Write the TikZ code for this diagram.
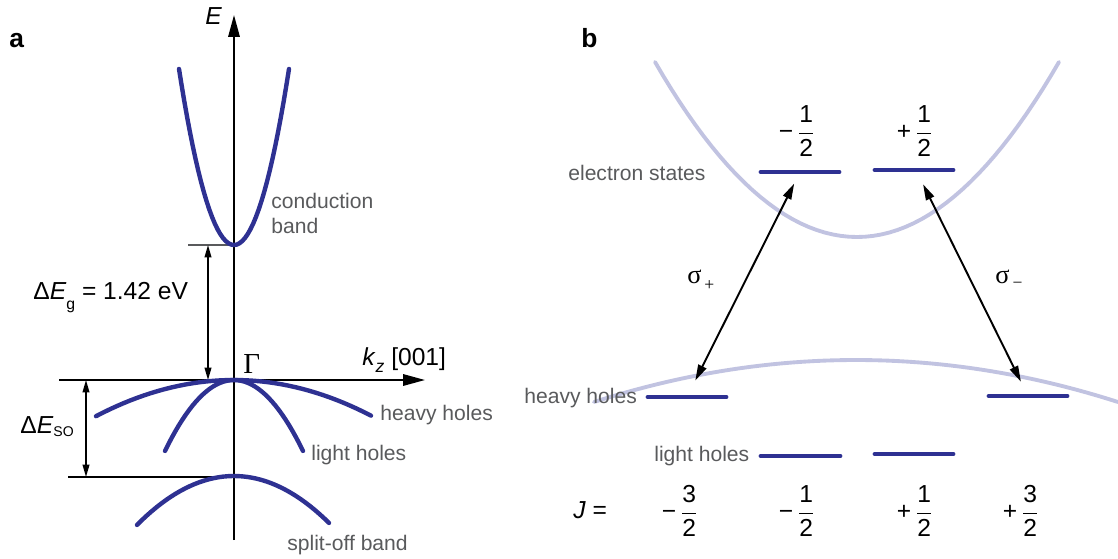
\documentclass[tikz,border=0pt]{standalone}
\usepackage{fontspec}
\setmainfont{Liberation Sans}
\newfontfamily\serifgr{Liberation Serif}
\usetikzlibrary{arrows.meta}
\definecolor{bandblue}{HTML}{2E3192}
\definecolor{bandlav}{HTML}{C1C3E1}
\definecolor{labgray}{HTML}{595A5C}
\newcommand{\spin}[2]{$\mbox{#1}\,{\displaystyle\frac{\mbox{#2}}{\mbox{2}}}$}
\begin{document}
\begin{tikzpicture}[x=0.02cm, y=-0.02cm, every node/.style={inner sep=0pt},
  band/.style={bandblue,line width=2.5pt,line cap=round},
  ghost/.style={bandlav,line width=2.2pt,line cap=round},
  level/.style={bandblue,line width=2.8pt,line cap=round},
  axis/.style={line width=1.1pt,-{Triangle[length=12.5pt,width=6.5pt]}},
  gap/.style={line width=0.9pt,{Triangle[length=7pt,width=3.8pt]}-{Triangle[length=7pt,width=3.8pt]}},
  trans/.style={line width=1.1pt,{Triangle[length=9pt,width=5pt]}-{Triangle[length=9pt,width=5pt]}},
  glabel/.style={text=labgray,font=\fontsize{12}{14}\selectfont},
  big/.style={font=\fontsize{14}{17}\selectfont},
  panel/.style={font=\fontsize{15}{18}\selectfont\bfseries}]
\useasboundingbox (0,0) rectangle (1118,558);
% a
\coordinate (O) at (234,380);
\coordinate (Ebot) at (234,540);
\coordinate (Etop) at (234,15);
\coordinate (kl) at (59,380);
\coordinate (kr) at (425,380);
\coordinate (cbmin) at (234,245);
\coordinate (cbtick) at (188,245);
\coordinate (somax) at (234,477);
\coordinate (sotick) at (68,477);
\coordinate (gapt) at (208,245);
\coordinate (gapb) at (208,380);
\coordinate (sot) at (86,380);
\coordinate (sob) at (86,477);
\draw[axis] (Ebot) -- (Etop);
\draw[axis] (kl) -- (kr);
\draw[labgray,line width=0.6pt] (cbtick) -- (cbmin);
\draw[line width=0.9pt] (sotick) -- (somax);
\draw[gap] (gapt) -- (gapb);
\draw[gap] (sot) -- (sob);
\draw[band] plot[domain=-55:55,samples=41] ({234+\x},{245-582*(\x/100)*(\x/100)});
\draw[band] plot[domain=-138:137,samples=41] ({234+\x},{380+19*(\x/100)*(\x/100)});
\draw[band] plot[domain=-69:69,samples=41] ({234+\x},{380+149*(\x/100)*(\x/100)});
\draw[band] plot[domain=-97:95,samples=41] ({234+\x},{476+52*(\x/100)*(\x/100)});
\node[panel,anchor=base west] (la) at (9,47) {a};
\node[big,anchor=base west] (Elab) at (205,24) {\textit{E}};
\node[glabel,anchor=north west,align=left] (cb) at (271,193) {conduction\\band};
\node[big,anchor=base west] (Eg) at (33,299) {Δ\textit{E}\raisebox{-6pt}{\fontsize{9}{9}\selectfont g} = 1.42 eV};
\node[big,anchor=base west] (Eso) at (20,433) {Δ\textit{E}\raisebox{-2pt}{\fontsize{8}{8}\selectfont SO}};
\node[anchor=base west,font=\serifgr\fontsize{16.5}{18}\selectfont] (G) at (243,373) {Γ};
\node[big,anchor=base west] (kz) at (362,365) {\textit{k}\raisebox{-4pt}{\fontsize{10}{10}\selectfont\textit{z}} [001]};
\node[glabel,anchor=base west] (hha) at (380,420) {heavy holes};
\node[glabel,anchor=base west] (lha) at (311,460) {light holes};
\node[glabel,anchor=base west] (soa) at (287,550) {split-off band};
% b
\coordinate (em) at (800,172);
\coordinate (ep) at (916,170);
\coordinate (hm) at (687,397);
\coordinate (hp) at (1028,396);
\draw[ghost] plot[domain=-202:202,samples=51] ({857+\x},{237-42.9*(\x/100)*(\x/100)});
\draw[ghost] plot[domain=-262:262,samples=51] ({856+\x},{360+6.12*(\x/100)*(\x/100)});
\draw[level] (761,172) -- (839,172);
\draw[level] (875,170) -- (953,170);
\draw[level] (648,397) -- (726,397);
\draw[level] (989,396) -- (1067,396);
\draw[level] (761,456) -- (840,456);
\draw[level] (875,454) -- (953,454);
\draw[trans,shorten <=0.37cm,shorten >=0.26cm] (hm) -- (em);
\draw[trans,shorten <=0.32cm,shorten >=0.32cm] (hp) -- (ep);
\node[panel,anchor=base west] (lb) at (581,47) {b};
\node[glabel,anchor=base west] (es) at (568,180) {electron states};
\node[glabel,anchor=base west] (hhb) at (524,403) {heavy holes};
\node[glabel,anchor=base west] (lhb) at (654,461) {light holes};
\node[anchor=base west,font=\serifgr\fontsize{15}{18}\selectfont] (sp) at (687,283) {σ\raisebox{-4pt}{\fontsize{10}{10}\selectfont\,+}};
\node[anchor=base west,font=\serifgr\fontsize{15}{18}\selectfont] (sm) at (995,283) {σ\raisebox{-3pt}{\fontsize{10}{10}\selectfont\,−}};
\node[big] (tm) at (797,131) {\spin{−}{1}};
\node[big] (tp) at (915,131) {\spin{+}{1}};
\node[big,anchor=base west] (J) at (573,518) {\textit{J} =};
\node[big] (j1) at (680,511) {\spin{−}{3}};
\node[big] (j2) at (797,511) {\spin{−}{1}};
\node[big] (j3) at (915,511) {\spin{+}{1}};
\node[big] (j4) at (1021,511) {\spin{+}{3}};
\end{tikzpicture}
\end{document}
